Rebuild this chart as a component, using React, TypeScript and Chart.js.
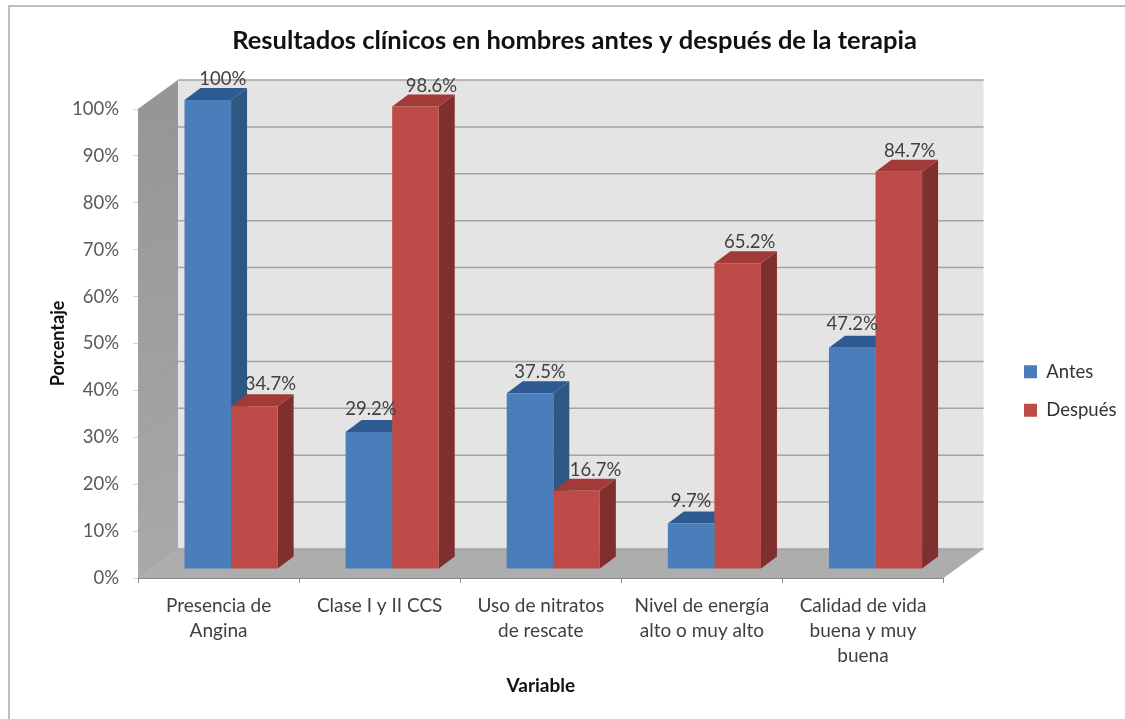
import React, { useEffect, useRef } from "react";
import { Chart, registerables } from "chart.js";

Chart.register(...registerables);

// Data
const categories: string[][] = [
  ["Presencia de", "Angina"],
  ["Clase I y II CCS"],
  ["Uso de nitratos", "de rescate"],
  ["Nivel de energía", "alto o muy alto"],
  ["Calidad de vida", "buena y muy", "buena"],
];
const antes = [100, 29.2, 37.5, 9.7, 47.2];
const despues = [34.7, 98.6, 16.7, 65.2, 84.7];

const TITLE = "Resultados clínicos en hombres antes y después de la terapia";
const FONT = "Lato";

// Oblique projection used for the walls and the bars
const WALL = { dx: 40, dy: -29 };
const BAR_PLANE = { dx: 12.5, dy: -9 };
const BAR_DEPTH = { dx: 16, dy: -12 };

// Hand placement of the value labels, relative to the top centre of each front face
const LABEL_OFFSETS = [
  [[15, -21], [2, -23], [10, -21], [0, -22], [0, -24]],
  [[16, -22], [16, -21], [19, -21], [12, -21], [11, -21]],
];

const BLUE = { face: "#4A7EBB", side: "#2F5783", top: "#2E5A92" };
const RED = { face: "#BE4B48", side: "#7F2F2D", top: "#A23A37" };

const poly = (ctx: CanvasRenderingContext2D, pts: number[][], fill: string | CanvasGradient) => {
  ctx.beginPath();
  pts.forEach(([x, y], i) => (i ? ctx.lineTo(x, y) : ctx.moveTo(x, y)));
  ctx.closePath();
  ctx.fillStyle = fill;
  ctx.fill();
};

// Positions the title and legend blocks away from the default layout slots
const placeBlocks = {
  id: "placeBlocks",
  afterLayout(chart: any) {
    const t = chart.titleBlock;
    const shift = 574.5 - (t.left + t.right) / 2;
    t.left += shift;
    t.right += shift;
    const lg = chart.legend;
    const pad = lg.options.labels.padding;
    const w = lg.right - lg.left;
    const h = lg.bottom - lg.top;
    lg.left = 1024 - pad;
    lg.right = lg.left + w;
    lg.top = 391 - h / 2;
    lg.bottom = lg.top + h;
  },
};

// Frame, side wall, back wall, floor and gridlines
const walls = {
  id: "walls",
  beforeDraw(chart: any) {
    const { ctx, chartArea: a, scales } = chart;
    const y = scales.y;
    const { dx, dy } = WALL;
    ctx.save();
    ctx.fillStyle = "#fff";
    ctx.fillRect(0, 0, chart.width, chart.height);
    ctx.strokeStyle = "#BDBDBD";
    ctx.lineWidth = 2;
    ctx.beginPath();
    ctx.moveTo(9, chart.height);
    ctx.lineTo(9, 6);
    ctx.lineTo(chart.width, 6);
    ctx.stroke();

    poly(ctx, [[a.left + dx, a.top + dy], [a.right + dx, a.top + dy], [a.right + dx, a.bottom + dy], [a.left + dx, a.bottom + dy]], "#E4E4E4");

    const side = ctx.createLinearGradient(0, a.top, 0, a.bottom);
    side.addColorStop(0, "#969696");
    side.addColorStop(1, "#A9A9A9");
    poly(ctx, [[a.left, a.top], [a.left + dx, a.top + dy], [a.left + dx, a.bottom + dy], [a.left, a.bottom]], side);

    poly(ctx, [[a.left, a.bottom], [a.right, a.bottom], [a.right + dx, a.bottom + dy], [a.left + dx, a.bottom + dy]], "#ADADAD");

    y.ticks.forEach((tick: any) => {
      const py = y.getPixelForValue(tick.value);
      ctx.lineWidth = 1.5;
      ctx.strokeStyle = "#A3A3A3";
      ctx.beginPath();
      ctx.moveTo(a.left + dx, py + dy);
      ctx.lineTo(a.right + dx, py + dy);
      ctx.stroke();
      ctx.lineWidth = 1;
      ctx.strokeStyle = "rgba(120,120,120,0.15)";
      ctx.beginPath();
      ctx.moveTo(a.left, py);
      ctx.lineTo(a.left + dx, py + dy);
      ctx.stroke();
    });
    ctx.restore();
  },
};

// Side and top faces of the bars, plus the shift of the front faces onto the bar plane.
// The library paints the first dataset last, so all depth faces go down first, in series order.
const bars3d = {
  id: "bars3d",
  beforeDatasetsDraw(chart: any) {
    const { ctx } = chart;
    ctx.save();
    ctx.translate(BAR_PLANE.dx, BAR_PLANE.dy);
    const { dx, dy } = BAR_DEPTH;
    [BLUE, RED].forEach((colors, i) => {
      chart.getDatasetMeta(i).data.forEach((el: any) => {
        const l = el.x - el.width / 2;
        const r = el.x + el.width / 2;
        poly(ctx, [[r, el.y], [r + dx, el.y + dy], [r + dx, el.base + dy], [r, el.base]], colors.side);
        poly(ctx, [[l, el.y], [l + dx, el.y + dy], [r + dx, el.y + dy], [r, el.y]], colors.top);
      });
    });
    ctx.restore();
  },
  beforeDatasetDraw(chart: any) {
    chart.ctx.save();
    chart.ctx.translate(BAR_PLANE.dx, BAR_PLANE.dy);
  },
  afterDatasetDraw(chart: any) {
    chart.ctx.restore();
  },
  afterDatasetsDraw(chart: any) {
    const { ctx, data } = chart;
    ctx.save();
    ctx.font = `18.5px ${FONT}`;
    ctx.fillStyle = "#404040";
    ctx.textAlign = "center";
    ctx.textBaseline = "middle";
    data.datasets.forEach((ds: any, i: number) => {
      chart.getDatasetMeta(i).data.forEach((el: any, j: number) => {
        const [ox, oy] = LABEL_OFFSETS[i][j];
        ctx.fillText(`${ds.data[j]}%`, el.x + BAR_PLANE.dx + ox, el.y + BAR_PLANE.dy + oy);
      });
    });
    ctx.restore();
  },
};

export default function App() {
  const ref = useRef<HTMLCanvasElement>(null);
  useEffect(() => {
    const chart = new Chart(ref.current!, {
      type: "bar",
      data: {
        labels: categories as any,
        datasets: [
          { label: "Antes", data: antes, backgroundColor: BLUE.face, clip: false as any },
          { label: "Después", data: despues, backgroundColor: RED.face, clip: false as any },
        ],
      },
      options: {
        responsive: false,
        animation: false,
        events: [],
        layout: { padding: { left: 0, right: 59, top: 0, bottom: 0 } },
        datasets: { bar: { barPercentage: 1, categoryPercentage: 0.578 } },
        plugins: {
          tooltip: { enabled: false },
          title: {
            display: true,
            text: TITLE,
            color: "#111",
            font: { family: FONT, size: 25.5, weight: "bold", lineHeight: "30px" },
            padding: { top: 26, bottom: 53 },
          },
          legend: {
            position: "right",
            labels: {
              boxWidth: 13,
              boxHeight: 13,
              padding: 20,
              color: "#333",
              font: { family: FONT, size: 18.5 },
            },
          },
        },
        scales: {
          x: {
            afterFit: (s: any) => { s.height = 141; },
            grid: { drawOnChartArea: false, drawTicks: true, tickLength: 5, color: "#8A8A8A", offset: true },
            border: { display: true, color: "#8A8A8A", width: 1 },
            ticks: {
              autoSkip: false,
              maxRotation: 0,
              padding: 11,
              color: "#404040",
              font: { family: FONT, size: 19, lineHeight: 1.3 },
            },
            title: {
              display: true,
              text: "Variable",
              color: "#111",
              font: { family: FONT, size: 19, weight: "bold", lineHeight: 1.2 },
              padding: { top: 0, bottom: 22 },
            },
          },
          y: {
            min: 0,
            max: 100,
            afterFit: (s: any) => { s.width = 138; },
            grid: { drawOnChartArea: false, drawTicks: true, tickLength: 5, color: "#D5D5D5" },
            border: { display: false },
            ticks: {
              stepSize: 10,
              padding: 14,
              color: "#595959",
              font: { family: FONT, size: 18.5 },
              callback: (v: any) => `${v}%`,
            },
            title: {
              display: true,
              text: "Porcentaje",
              color: "#111",
              font: { family: FONT, size: 18, weight: "bold", lineHeight: 1.2 },
              padding: { top: 47, bottom: 0 },
            },
          },
        },
      },
      plugins: [placeBlocks, walls, bars3d],
    } as any);
    return () => chart.destroy();
  }, []);
  return (
    <div style={{ position: "absolute", left: 0, top: 0, width: 1125, height: 719 }}>
      <canvas ref={ref} width={1125} height={719} style={{ display: "block" }} />
    </div>
  );
}
